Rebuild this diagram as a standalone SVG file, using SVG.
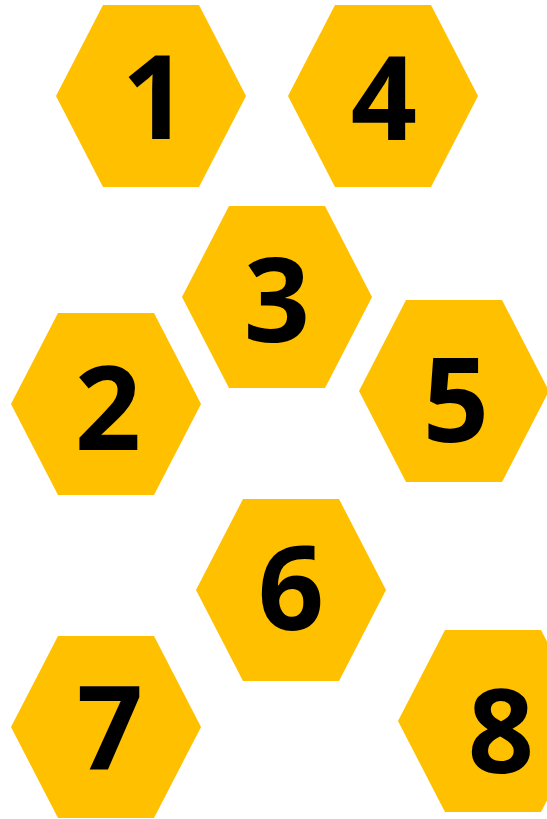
<svg xmlns="http://www.w3.org/2000/svg" width="547" height="819" viewBox="0 0 547 819">
<style>
.hex{fill:#FFC000}
.num{font-family:"Noto Sans","Open Sans",sans-serif;font-weight:700;font-size:116px;fill:#000;text-anchor:middle}
</style>
<defs>
<polygon id="h" points="-95,0 -48,-91 48,-91 95,0 48,91 -48,91"/>
</defs>
<g id="connectors"></g>
<g id="node1"><use href="#h" class="hex" x="151" y="96"/><text class="num" x="155" y="139">1</text></g>
<g id="node4"><use href="#h" class="hex" x="383" y="96"/><text class="num" x="384" y="140">4</text></g>
<g id="node3"><use href="#h" class="hex" x="277" y="297"/><text class="num" x="277" y="342">3</text></g>
<g id="node2"><use href="#h" class="hex" x="106" y="404"/><text class="num" x="108" y="450">2</text></g>
<g id="node5"><use href="#h" class="hex" x="454" y="391"/><text class="num" x="456" y="442">5</text></g>
<g id="node6"><use href="#h" class="hex" x="291" y="590"/><text class="num" x="291" y="630">6</text></g>
<g id="node7"><use href="#h" class="hex" x="106" y="727"/><text class="num" x="110" y="770">7</text></g>
<g id="node8"><use href="#h" class="hex" x="493" y="721"/><text class="num" x="501" y="773">8</text></g>
</svg>
